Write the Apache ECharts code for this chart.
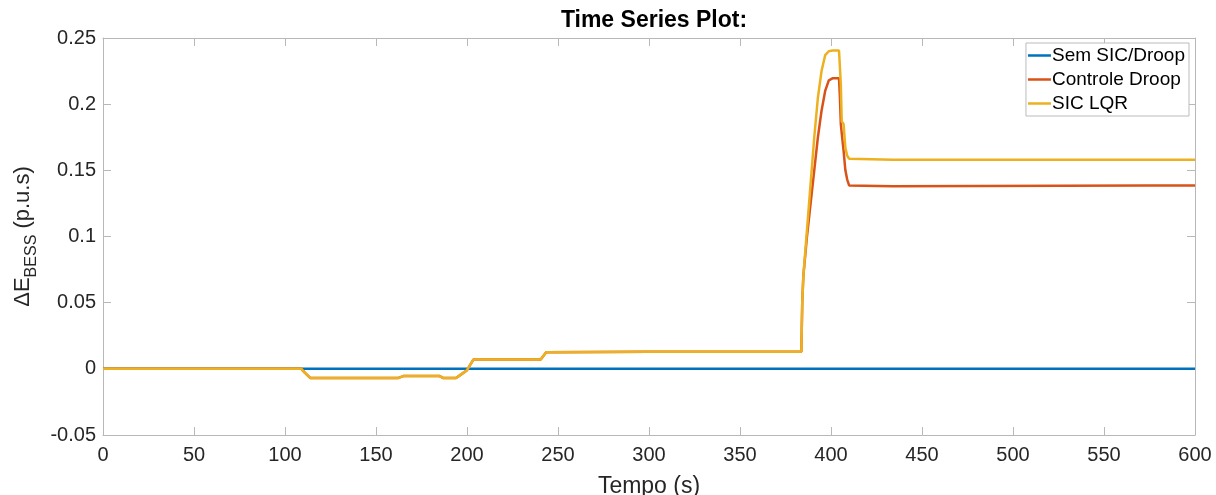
<!DOCTYPE html>
<html>
<head>
<meta charset="utf-8">
<script src="https://cdn.jsdelivr.net/npm/echarts@6/dist/echarts.min.js"></script>
<style>html,body{margin:0;padding:0;background:#fff;}#c{width:1216px;height:495px;}</style>
</head>
<body>
<div id="c"></div>
<script>
const seriesNames = ['Sem SIC/Droop', 'Controle Droop', 'SIC LQR'];
const time = [0,109,111,114,162,165,185,187,194,197,200,203.5,240.5,243.5,300,383.7,384.2,384.8,386.8,388.8,390.8,392.8,394.8,396.8,398.8,400.8,402.8,404.4,404.9,405.4,405.9,406.9,407.9,408.9,410,434,574,600];
const semSic = time.map(() => 0);
const droop = [0,0,-0.003,-0.007,-0.007,-0.0055,-0.0055,-0.007,-0.007,-0.004,-0.001,0.007,0.007,0.0125,0.013,0.013,0.05,0.07,0.1,0.125,0.15,0.175,0.195,0.21,0.218,0.2195,0.2195,0.2195,0.205,0.185,0.178,0.165,0.15,0.143,0.1385,0.138,0.1385,0.1385];
const lqr = [0,0,-0.003,-0.007,-0.007,-0.0055,-0.0055,-0.007,-0.007,-0.004,-0.001,0.007,0.007,0.0125,0.013,0.013,0.05,0.07,0.105,0.14,0.175,0.205,0.225,0.237,0.24,0.2405,0.2405,0.2405,0.2405,0.215,0.187,0.185,0.167,0.161,0.1588,0.158,0.158,0.158];
const xTicks = {min: 0, max: 600, interval: 50};
const yTicks = {min: -0.05, max: 0.25, interval: 0.05};
const colors = ['#0072BD', '#D95319', '#EDB120'];

const pair = (vals) => time.map((t, i) => [t, vals[i]]);
const axisGray = '#b8b8b8';
const labelColor = '#262626';
const font = 'Liberation Sans, Arial, sans-serif';
const line = {show: true, onZero: false, lineStyle: {color: axisGray, width: 1}};
const tick = {show: true, inside: true, length: 8, lineStyle: {color: axisGray}};

const chart = echarts.init(document.getElementById('c'));
chart.setOption({
  animation: false,
  backgroundColor: '#fff',
  textStyle: {fontFamily: font},
  title: {
    text: 'Time Series Plot:', left: 649, top: 4, textAlign: 'center',
    textStyle: {fontSize: 23, fontWeight: 'bold', color: '#000', fontFamily: font}
  },
  legend: {
    orient: 'vertical', right: 27, top: 43,
    data: seriesNames,
    icon: 'rect',
    itemWidth: 23, itemHeight: 2.5, itemGap: 5,
    padding: [3, 4, 3, 2],
    borderColor: '#bbb', borderWidth: 1, backgroundColor: '#fff',
    textStyle: {fontSize: 19, color: '#000', fontFamily: font, padding: [0, 0, 0, -4]}
  },
  grid: {left: 103, right: 21, top: 38, bottom: 60, outerBoundsMode: 'none', containLabel: false},
  xAxis: [{
    type: 'value', min: xTicks.min, max: xTicks.max, interval: xTicks.interval,
    name: 'Tempo (s)', nameLocation: 'middle', nameGap: 40,
    nameTextStyle: {fontSize: 23, color: labelColor},
    axisLine: line, axisTick: tick,
    axisLabel: {fontSize: 20, color: labelColor, margin: 10},
    splitLine: {show: false}
  }, {
    type: 'value', position: 'top', min: xTicks.min, max: xTicks.max, interval: xTicks.interval,
    axisLine: line, axisTick: tick,
    axisLabel: {show: false}, splitLine: {show: false}
  }],
  yAxis: [{
    type: 'value', min: yTicks.min, max: yTicks.max, interval: yTicks.interval,
    name: '{d|ΔE}{s|BESS}{d| (p.u.s)}', nameLocation: 'middle', nameGap: 60, nameRotate: 90,
    nameTextStyle: {
      color: labelColor,
      rich: {
        d: {fontSize: 22, color: labelColor, lineHeight: 34, verticalAlign: 'middle', fontFamily: font},
        s: {fontSize: 16, color: labelColor, lineHeight: 34, verticalAlign: 'bottom', fontFamily: font}
      }
    },
    axisLine: line, axisTick: tick,
    axisLabel: {fontSize: 20, color: labelColor, margin: 7, formatter: v => String(Math.round(v * 100) / 100)},
    splitLine: {show: false}
  }, {
    type: 'value', position: 'right', min: yTicks.min, max: yTicks.max, interval: yTicks.interval,
    axisLine: line, axisTick: tick,
    axisLabel: {show: false}, splitLine: {show: false}
  }],
  series: [
    {name: seriesNames[0], type: 'line', data: pair(semSic), symbol: 'none', color: colors[0], lineStyle: {width: 2.5, color: colors[0]}},
    {name: seriesNames[1], type: 'line', data: pair(droop), symbol: 'none', color: colors[1], lineStyle: {width: 2.5, color: colors[1]}},
    {name: seriesNames[2], type: 'line', data: pair(lqr), symbol: 'none', color: colors[2], lineStyle: {width: 2.5, color: colors[2]}}
  ]
});
</script>
</body>
</html>
